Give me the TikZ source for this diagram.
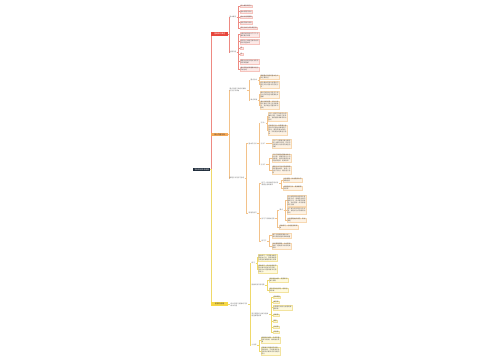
\documentclass[tikz,border=0pt]{standalone}
\usepackage{fontspec}
\setmainfont{Noto Sans CJK SC}
\usetikzlibrary{calc,backgrounds}
\XeTeXlinebreaklocale "zh"
\XeTeXlinebreakskip=0pt plus 0.5pt
\definecolor{rootc}{HTML}{1E2B3A}
\definecolor{rmain}{HTML}{E8463C}
\definecolor{omain}{HTML}{F5A857}
\definecolor{ymain}{HTML}{F6D744}
\definecolor{rline}{HTML}{EE8A82}
\definecolor{oline}{HTML}{F3C28A}
\definecolor{yline}{HTML}{EFD96A}
\definecolor{rfill}{HTML}{FCE9E7}
\definecolor{rdraw}{HTML}{F6C3BD}
\definecolor{ofill}{HTML}{FDF2E4}
\definecolor{odraw}{HTML}{F7D8B2}
\definecolor{yfill}{HTML}{FEF9DD}
\definecolor{ydraw}{HTML}{F2E39E}
\definecolor{labc}{HTML}{666666}
\newcommand{\mmlink}[3][]{\draw[line width=0.4pt,#1] let \p1=(#2.east),\p2=(#3.west) in (\p1) -- ({(\x1+\x2)/2},\y1) |- (\p2);}
\tikzset{
  base/.style={anchor=west, inner sep=0.5pt, font=\fontsize{1.6}{2}\selectfont, align=left},
  rootn/.style={base, fill=rootc, text=white, minimum width=17pt, minimum height=3.6pt, align=center, font=\fontsize{1.8}{2.2}\selectfont},
  mainn/.style={base, minimum width=17pt, minimum height=3.6pt, align=center, font=\fontsize{1.8}{2.2}\selectfont},
  mainr/.style={mainn, fill=rmain, text=white},
  maino/.style={mainn, fill=omain, text=black!80},
  mainy/.style={mainn, fill=ymain, text=black!80},
  lab/.style={base, text=labc},
  leafb/.style={base, line width=0.2pt, text=black!65},
  rleaf/.style={leafb, fill=rfill, draw=rdraw},
  oleaf/.style={leafb, fill=ofill, draw=odraw},
  yleaf/.style={leafb, fill=yfill, draw=ydraw},
  tw/.style={text width=18pt},
  tl/.style={text width=17pt},
}
\begin{document}
\begin{tikzpicture}[x=1pt,y=-1pt]
\useasboundingbox (0,0) rectangle (500,360);

% root
\node[rootn] (root) at (193,169.5) {学科知识体系梳理};

% ---------- red branch ----------
\node[mainr] (R) at (211,34) {基础知识概述};
\node[lab] (RA) at (229,17) {基本概念};
\node[lab] (RB) at (229,52) {主要内容};
\node[rleaf] (RA1) at (240,6) {核心概念的定义};
\node[rleaf] (RA2) at (240,11.5) {基本原理与特点};
\node[rleaf] (RA3) at (240,17) {相关术语的解释};
\node[rleaf] (RA4) at (240,22.5) {适用范围与条件};
\node[rleaf] (RA5) at (240,28) {常见分类方式及其区别};
\node[rleaf,tw] (RB1) at (240,34.5) {主要内容包括以下几个方面的要点说明};
\node[rleaf,tw] (RB2) at (240,41.5) {各部分之间相互联系共同构成完整体系};
\node[rleaf] (RB3) at (240,48) {是};
\node[rleaf] (RB4) at (240,54) {否};
\node[rleaf,tw] (RB5) at (240,61.5) {需要注意的问题以及常见的错误理解};
\node[rleaf,tw] (RB6) at (240,69) {通过实例加深理解并进行归纳总结};

% ---------- orange branch ----------
\node[maino] (O) at (211,134.5) {核心内容分析};
\node[lab,tl] (OA) at (229,90) {重点内容与难点的解析以及方法归纳};
\node[lab] (OA1) at (250,80) {重点分析};
\node[lab] (OA2) at (250,100) {难点突破};
\node[oleaf,tw] (OA1a) at (260,77) {掌握重点内容的基本含义和主要特征};
\node[oleaf,tw] (OA1b) at (260,84.5) {结合具体实例分析重点内容在实际问题中的应用方法};
\node[oleaf,tw] (OA2a) at (260,94.5) {难点内容往往涉及多个知识点的综合运用需要逐步理解};
\node[oleaf,tw] (OA2b) at (260,105) {通过分解步骤、对比分析和反复练习等方法突破难点，逐步建立完整的知识结构};

\node[lab] (OB) at (229,178) {解题方法与技巧总结};
\node[lab] (OB1) at (248,143.5) {基本的方法};
\node[lab] (OB1a) at (260,123) {方法一};
\node[lab] (OB1b) at (260,143.5) {方法二};
\node[lab] (OB1c) at (260,164.5) {方法三};
\node[oleaf,tw] (OB1a1) at (268,116.5) {方法一适用于条件较为明确的问题，先确定已知条件，再根据规律推导得出结论};
\node[oleaf,tw] (OB1a2) at (268,130) {在使用方法一时需要注意条件的完整性和推理的严密性，避免遗漏关键信息，同时要对结果进行检验};
\node[oleaf,tw] (OB1b1) at (272,143.5) {方法二主要通过建立模型的方式解决问题，将实际问题转化为熟悉的类型后求解};
\node[oleaf,tw] (OB1c1) at (272,158) {方法三强调从整体出发分析问题，把握各部分之间的联系，适合处理综合性较强的题目，提高效率};
\node[oleaf,tw] (OB1c2) at (272,170) {使用方法三时应先梳理题目的整体结构，再逐一分析各个部分，最后进行总结};

\node[lab] (OB2) at (248,213) {常用的技巧};
\node[lab,tl] (OB2a) at (261,183.5) {技巧一的具体应用以及需要注意的事项};
\node[lab] (OB2b) at (261,218.5) {技巧二的具体应用};
\node[lab] (OB2c) at (261,241) {技巧三};
\node[oleaf,tw] (OB2a1) at (283,180) {注意审题，找出题目中的关键信息};
\node[oleaf,tw] (OB2a2) at (283,188) {合理选择方法，提高解题的效率};
\node[lab] (OB2b1) at (279,210) {要点};
\node[oleaf,tw] (OB2b1a) at (287,200.5) {先分析题目的类型和考查的知识点，再确定合适的解题方法，按步骤完成解答，并检查每一步的推理是否正确};
\node[oleaf,tw] (OB2b1b) at (287,210.5) {对于复杂的问题可以先化简，再逐步分析求解得出结论};
\node[oleaf,tw] (OB2b1c) at (287,220) {注意答题格式规范，表述清楚};
\node[oleaf,tw] (OB2b2) at (279,227) {多做练习，总结经验和规律};
\node[oleaf,tw] (OB2c1) at (272,235.5) {善于利用图表辅助分析，使问题更加直观清晰易懂};
\node[oleaf,tw] (OB2c2) at (272,246) {及时整理错题，分析错误原因，避免再次出现同类错误};

% ---------- yellow branch ----------
\node[mainy] (Y) at (211,304) {拓展与应用};
\node[lab,tl] (YA) at (230,304.5) {综合应用与拓展练习的相关内容};
\node[lab] (YA1) at (251,263) {练习};
\node[lab] (YA2) at (251,285) {拓展阅读与思考题};
\node[lab,tl] (YA3) at (251,314.5) {常见题型的分类及各类题型解题步骤};
\node[lab] (YA4) at (251,345) {小总结};
\node[yleaf,tw] (YA1a) at (258,257.5) {基础练习：巩固基本概念和基本方法，熟练掌握常见题型的解题思路与步骤};
\node[yleaf,tw] (YA1b) at (258,269) {提高练习：综合运用所学知识解决较复杂的问题，培养分析问题和解决问题的能力};
\node[yleaf,tw] (YA2a) at (269,280) {阅读相关材料，拓宽知识面与视野};
\node[yleaf,tw] (YA2b) at (269,290) {思考开放性问题，培养创新思维};
\node[yleaf] (YA3a) at (273,297) {选择题型};
\node[yleaf] (YA3b) at (273,302) {填空题};
\node[yleaf,tw] (YA3c) at (273,307.5) {计算题与综合分析题的解题思路};
\node[yleaf] (YA3d) at (273,315) {判断题};
\node[yleaf] (YA3e) at (273,321) {简答};
\node[yleaf] (YA3f) at (273,327) {论述题};
\node[yleaf] (YA3g) at (273,332) {实验题};
\node[yleaf,tw] (YA4a) at (261,340) {梳理知识结构，形成完整的知识网络，做到融会贯通};
\node[yleaf,tw] (YA4b) at (261,351) {定期复习巩固所学内容，查漏补缺，不断提高综合运用知识解决实际问题的能力};

\begin{pgfonlayer}{background}
\fill[white] (0,0) rectangle (500,360);
% orange
\mmlink[oline]{root}{O}
\mmlink[oline]{O}{OA}
\mmlink[oline]{O}{OB}
\foreach \c in {OA1,OA2} {\mmlink[oline]{OA}{\c}}
\foreach \c in {OA1a,OA1b} {\mmlink[oline]{OA1}{\c}}
\foreach \c in {OA2a,OA2b} {\mmlink[oline]{OA2}{\c}}
\foreach \c in {OB1,OB2} {\mmlink[oline]{OB}{\c}}
\foreach \c in {OB1a,OB1b,OB1c} {\mmlink[oline]{OB1}{\c}}
\foreach \c in {OB1a1,OB1a2} {\mmlink[oline]{OB1a}{\c}}
\mmlink[oline]{OB1b}{OB1b1}
\foreach \c in {OB1c1,OB1c2} {\mmlink[oline]{OB1c}{\c}}
\foreach \c in {OB2a,OB2b,OB2c} {\mmlink[oline]{OB2}{\c}}
\foreach \c in {OB2a1,OB2a2} {\mmlink[oline]{OB2a}{\c}}
\foreach \c in {OB2b1,OB2b2} {\mmlink[oline]{OB2b}{\c}}
\foreach \c in {OB2b1a,OB2b1b,OB2b1c} {\mmlink[oline]{OB2b1}{\c}}
\foreach \c in {OB2c1,OB2c2} {\mmlink[oline]{OB2c}{\c}}
% red
\mmlink[rline]{root}{R}
\foreach \c in {RA,RB} {\mmlink[rline]{R}{\c}}
\foreach \c in {RA1,RA2,RA3,RA4,RA5} {\mmlink[rline]{RA}{\c}}
\foreach \c in {RB1,RB2,RB3,RB4,RB5,RB6} {\mmlink[rline]{RB}{\c}}
% yellow
\mmlink[yline]{root}{Y}
\mmlink[yline]{Y}{YA}
\foreach \c in {YA1,YA2,YA3,YA4} {\mmlink[yline]{YA}{\c}}
\foreach \c in {YA1a,YA1b} {\mmlink[yline]{YA1}{\c}}
\foreach \c in {YA2a,YA2b} {\mmlink[yline]{YA2}{\c}}
\foreach \c in {YA3a,YA3b,YA3c,YA3d,YA3e,YA3f,YA3g} {\mmlink[yline]{YA3}{\c}}
\foreach \c in {YA4a,YA4b} {\mmlink[yline]{YA4}{\c}}
\end{pgfonlayer}
\end{tikzpicture}
\end{document}
